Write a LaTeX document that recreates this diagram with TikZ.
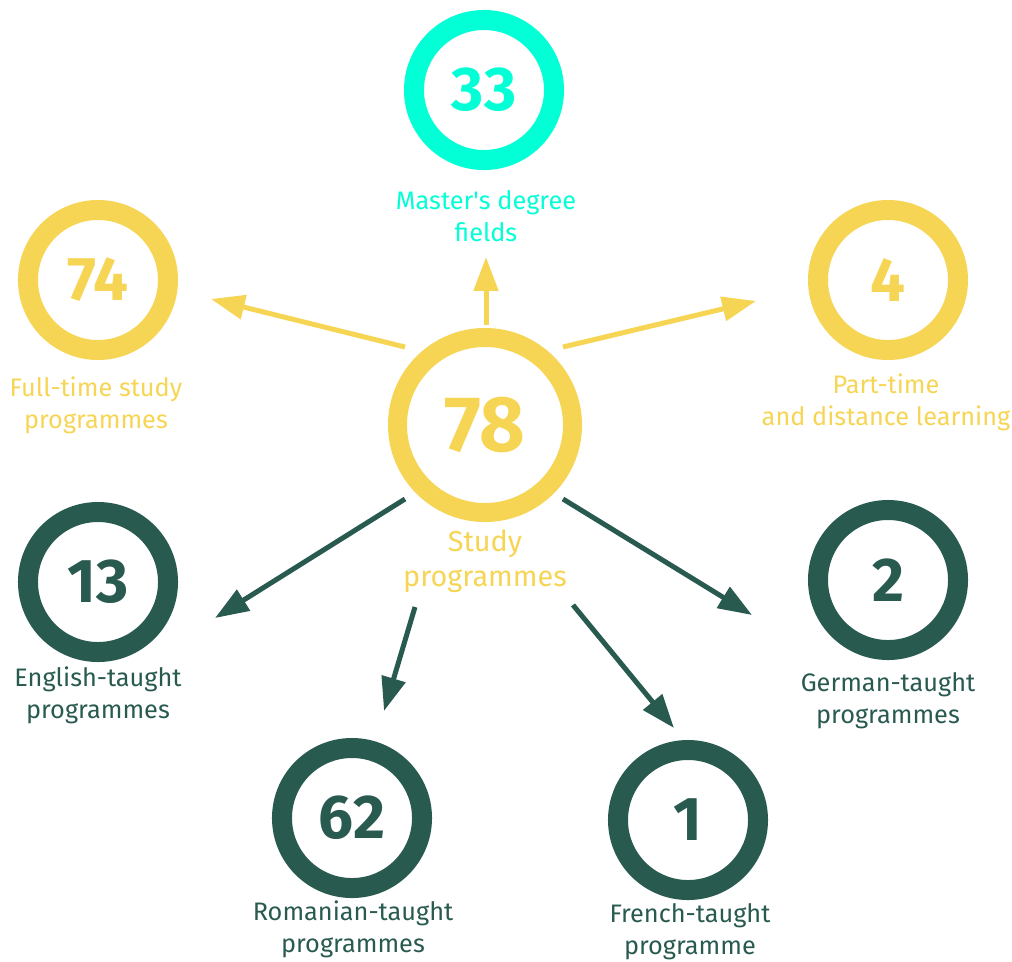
\documentclass[tikz,border=0pt]{standalone}
\usepackage{fontspec}
\setmainfont{Fira Sans}
\usetikzlibrary{arrows.meta,positioning}
\definecolor{sunyellow}{HTML}{F6D555}
\definecolor{aqua}{HTML}{03FFD5}
\definecolor{pine}{HTML}{295A50}
\tikzset{%
	ring/.style     = {draw, circle, line width=0.5cm, minimum size=3.5cm, inner sep=0pt, font=\fontsize{44}{44}\selectfont\bfseries},
	bigring/.style  = {draw, circle, line width=0.475cm, minimum size=4.375cm, inner sep=0pt, font=\fontsize{56}{56}\selectfont\bfseries},
	caption/.style  = {align=center, font=\fontsize{18}{22.7}\selectfont},
	arrow/.style    = {line width=0.125cm, -{Triangle[length=24pt, width=17pt]}},
}
\begin{document}
\begin{tikzpicture}[x=0.025cm, y=-0.025cm]
	\useasboundingbox (0,0) rectangle (1012,961);
	% circles
	\node[bigring, sunyellow] (study) at (485,425) {78};
	\node[ring, aqua] (master) at (484,90) {33};
	\node[ring, sunyellow] (fulltime) at (98,280) {74};
	\node[ring, sunyellow] (parttime) at (888,280) {4};
	\node[ring, pine] (english) at (98,582) {13};
	\node[ring, pine] (german) at (888,580) {2};
	\node[ring, pine] (romanian) at (352,818) {62};
	\node[ring, pine] (french) at (688,820) {1};
	% labels
	\node[caption, sunyellow, font=\fontsize{20.5}{24.8}\selectfont] (studylbl) at (485,561) {Study\\programmes};
	\node[caption, aqua] (masterlbl) at (486,216) {Master\textquotesingle s degree\\fields};
	\node[caption, sunyellow] (fulltimelbl) at (96,405) {Full-time study\\programmes};
	\node[caption, sunyellow] (parttimelbl) at (886,402) {Part-time\\and distance learning};
	\node[caption, pine] (englishlbl) at (98,695) {English-taught\\programmes};
	\node[caption, pine] (germanlbl) at (888,701) {German-taught\\programmes};
	\node[caption, pine] (romanianlbl) at (353,929) {Romanian-taught\\programmes};
	\node[caption, pine] (frenchlbl) at (690,932) {French-taught\\programme};
	% arrow ends
	\coordinate (sfull) at (405,347);  \coordinate (efull) at (211,299);
	\coordinate (smast) at (486,325);  \coordinate (emast) at (486,257);
	\coordinate (spart) at (563,347);  \coordinate (epart) at (756,301);
	\coordinate (seng) at (405,499);   \coordinate (eeng) at (215,618);
	\coordinate (srom) at (415,607);   \coordinate (erom) at (384,711);
	\coordinate (sfre) at (573,605);   \coordinate (efre) at (674,728);
	\coordinate (sger) at (563,499);   \coordinate (eger) at (752,615);
	\draw[arrow, sunyellow] (sfull) -- (efull);
	\draw[arrow, sunyellow] (smast) -- (emast);
	\draw[arrow, sunyellow] (spart) -- (epart);
	\draw[arrow, pine] (seng) -- (eeng);
	\draw[arrow, pine] (srom) -- (erom);
	\draw[arrow, pine] (sfre) -- (efre);
	\draw[arrow, pine] (sger) -- (eger);
\end{tikzpicture}
\end{document}
